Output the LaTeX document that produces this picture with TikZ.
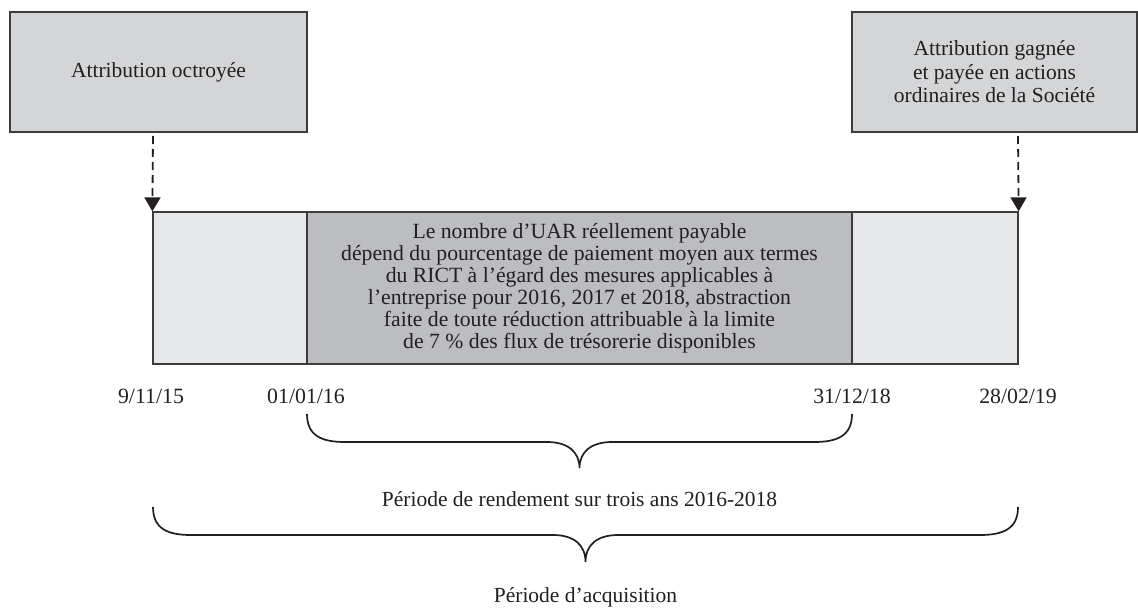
\documentclass[tikz,border=0pt]{standalone}
\usepackage{fontspec}
\setmainfont{Liberation Serif}
\usetikzlibrary{arrows.meta}
\definecolor{boxgray}{RGB}{212,213,215}
\definecolor{lightseg}{RGB}{230,231,232}
\definecolor{midseg}{RGB}{188,189,192}
\definecolor{edge}{RGB}{60,60,60}
\definecolor{ink}{RGB}{35,31,32}
\tikzset{
  topbox/.style={draw=edge, line width=1.3pt, fill=boxgray, rectangle, inner sep=0pt, align=center, text=ink, font=\fontsize{21.5}{23.5}\selectfont},
  seg/.style={draw=edge, line width=1.3pt, rectangle, inner sep=0pt, minimum height=152pt, align=center, text=ink, font=\fontsize{21.7}{22}\selectfont},
  datelbl/.style={font=\fontsize{21.8}{22}\selectfont, inner sep=0pt, text=ink},
  plainlbl/.style={font=\fontsize{21.5}{22}\selectfont, inner sep=0pt, text=ink},
  dasharrow/.style={dash pattern=on 8pt off 5pt, line width=1.8pt, draw=ink, -{Triangle[width=16pt,length=14pt]}},
  bracestyle/.style={line width=1.7pt, draw=ink}
}
\begin{document}
\begin{tikzpicture}[x=1pt,y=-1pt]
\useasboundingbox (0,0) rectangle (1138,610);
% top boxes
\node[topbox, minimum width=297pt, minimum height=120pt] (grant) at (158.5,72) {Attribution octroyée};
\node[topbox, minimum width=285pt, minimum height=120pt] (paid) at (994.5,72) {Attribution gagnée\\et payée en actions\\ordinaires de la Société};
% bar segments
\node[seg, fill=lightseg, minimum width=154pt] (segA) at (230,288) {};
\node[seg, fill=midseg, minimum width=545pt] (segB) at (579.5,288) {Le nombre d’UAR réellement payable\\dépend du pourcentage de paiement moyen aux termes\\du RICT à l’égard des mesures applicables à\\l’entreprise pour 2016, 2017 et 2018, abstraction\\faite de toute réduction attribuable à la limite\\de 7 \% des flux de trésorerie disponibles};
\node[seg, fill=lightseg, minimum width=166pt] (segC) at (935,288) {};
% arrows
\coordinate (grantpt) at (153,136);
\coordinate (paidpt) at (1018,136);
\draw[dasharrow] (grantpt) -- (segA.north west);
\draw[dasharrow] (paidpt) -- (segC.north east);
% dates
\node[datelbl] (d1) at (151,396) {9/11/15};
\node[datelbl] (d2) at (306,396) {01/01/16};
\node[datelbl] (d3) at (852,396) {31/12/18};
\node[datelbl] (d4) at (1018,396) {28/02/19};
% inner brace
\coordinate (ib1) at (307,414);
\coordinate (ib2) at (852,414);
\coordinate (ibt) at (579.5,468);
\draw[bracestyle] (ib1) .. controls (307,436) and (322,442) .. (345,442) -- (547,442)
  .. controls (568,442) and (579.5,452) .. (ibt)
  .. controls (579.5,452) and (591,442) .. (612,442) -- (814,442)
  .. controls (837,442) and (852,436) .. (ib2);
\node[plainlbl] (perf) at (579.5,499) {Période de rendement sur trois ans 2016-2018};
% outer brace
\coordinate (ob1) at (153,507);
\coordinate (ob2) at (1018,507);
\coordinate (obt) at (585.5,562);
\draw[bracestyle] (ob1) .. controls (153,529) and (168,535) .. (191,535) -- (553,535)
  .. controls (574,535) and (585.5,545) .. (obt)
  .. controls (585.5,545) and (597,535) .. (618,535) -- (980,535)
  .. controls (1003,535) and (1018,529) .. (ob2);
\node[plainlbl] (acq) at (585.5,597) {Période d’acquisition};
\end{tikzpicture}
\end{document}
